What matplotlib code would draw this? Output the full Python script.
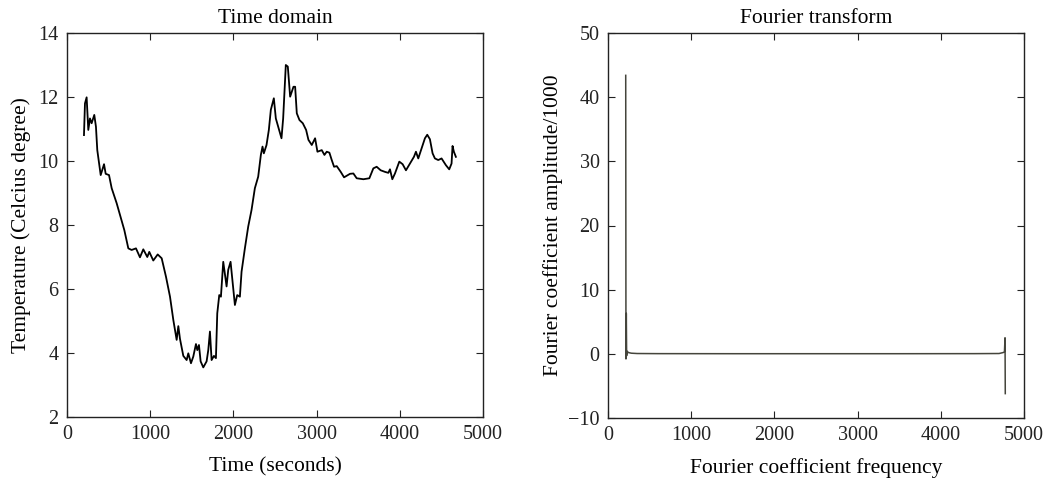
import matplotlib
matplotlib.use("Agg")
import matplotlib.pyplot as plt

plt.rcParams['font.family'] = ['Liberation Serif', 'DejaVu Serif']
plt.rcParams['axes.unicode_minus'] = True

# Time-domain series (seconds, degrees Celsius)
time_s = [204, 216, 236, 256, 276, 296, 328, 348, 364, 405, 445, 465, 505, 537,
          597, 637, 689, 737, 777, 829, 877, 917, 965, 989, 1037, 1090, 1138,
          1190, 1238, 1278, 1318, 1338, 1358, 1398, 1438, 1458, 1490, 1518, 1550,
          1566, 1586, 1606, 1638, 1678, 1698, 1718, 1738, 1766, 1790, 1806, 1830,
          1850, 1878, 1918, 1938, 1966, 1990, 2018, 2046, 2078, 2098, 2138, 2178,
          2218, 2258, 2298, 2330, 2350, 2366, 2398, 2426, 2450, 2486, 2510, 2538,
          2578, 2598, 2630, 2654, 2682, 2722, 2742, 2762, 2794, 2834, 2874, 2902,
          2942, 2982, 3010, 3062, 3094, 3122, 3154, 3182, 3210, 3242, 3290, 3330,
          3402, 3442, 3482, 3562, 3634, 3682, 3722, 3770, 3822, 3862, 3882, 3910,
          3942, 3994, 4034, 4074, 4122, 4170, 4194, 4222, 4262, 4302, 4330, 4362,
          4394, 4422, 4462, 4502, 4554, 4594, 4622, 4634, 4650, 4674]
temperature = [10.81, 11.80, 11.99, 10.97, 11.33, 11.18, 11.44, 11.07, 10.34, 9.56,
               9.90, 9.60, 9.56, 9.15, 8.68, 8.31, 7.84, 7.27, 7.22, 7.27, 6.99,
               7.24, 7.00, 7.16, 6.89, 7.08, 6.96, 6.38, 5.76, 5.03, 4.41, 4.84,
               4.44, 3.91, 3.78, 3.99, 3.68, 3.89, 4.28, 4.09, 4.25, 3.74, 3.55,
               3.74, 4.09, 4.67, 3.78, 3.91, 3.84, 5.24, 5.81, 5.76, 6.85, 6.08,
               6.60, 6.85, 6.23, 5.50, 5.81, 5.76, 6.54, 7.27, 7.95, 8.47, 9.15,
               9.51, 10.19, 10.45, 10.24, 10.50, 10.97, 11.60, 11.96, 11.33, 11.07,
               10.71, 11.33, 13.00, 12.95, 12.01, 12.32, 12.32, 11.49, 11.28, 11.18,
               10.97, 10.66, 10.50, 10.71, 10.29, 10.34, 10.19, 10.29, 10.26, 10.03,
               9.82, 9.84, 9.66, 9.49, 9.60, 9.61, 9.46, 9.43, 9.46, 9.77, 9.82,
               9.71, 9.66, 9.63, 9.74, 9.43, 9.61, 9.98, 9.90, 9.71, 9.92, 10.13,
               10.29, 10.08, 10.40, 10.71, 10.82, 10.68, 10.24, 10.08, 10.03, 10.08,
               9.87, 9.74, 9.92, 10.47, 10.29, 10.13]

# Fourier coefficients (amplitude / 1000)
fourier_freq = [213, 216, 220, 224, 230, 245, 280, 350, 600, 1500, 2500, 3500,
                4400, 4700, 4750, 4765, 4772, 4775]
fourier_amp = [43.4, -0.8, 6.3, -0.3, 0.4, 0.2, 0.1, 0.05, 0.03, 0.02, 0.02, 0.02,
               0.03, 0.05, 0.2, 0.3, 2.5, -6.2]

fig = plt.figure(figsize=(10.55, 4.79), dpi=100)
ax1 = fig.add_axes([67/1055, 1-417/479, 416/1055, 384/479])
ax2 = fig.add_axes([608/1055, 1-418/479, 416/1055, 385/479])

ax1.plot(time_s, temperature, color='black', lw=1.3)
ax1.set_xlim(0, 5000)
ax1.set_ylim(2, 14)
ax1.set_xticks([0, 1000, 2000, 3000, 4000, 5000])
ax1.set_yticks([2, 4, 6, 8, 10, 12, 14])
ax1.set_title('Time domain', fontsize=15.5, pad=7)
ax1.set_xlabel('Time (seconds)', fontsize=15.5, labelpad=9)
ax1.set_ylabel('Temperature (Celcius degree)', fontsize=15.5, labelpad=5)

ax2.plot(fourier_freq, fourier_amp, color='#45453c', lw=1.1)
ax2.set_xlim(0, 5000)
ax2.set_ylim(-10, 50)
ax2.set_xticks([0, 1000, 2000, 3000, 4000, 5000])
ax2.set_yticks([-10, 0, 10, 20, 30, 40, 50])
ax2.set_title('Fourier transform', fontsize=15.5, pad=7)
ax2.set_xlabel('Fourier coefficient frequency', fontsize=15.5, labelpad=9)
ax2.set_ylabel('Fourier coefficient amplitude/1000', fontsize=15.5, labelpad=4)

for ax in (ax1, ax2):
    ax.tick_params(direction='in', top=True, right=True, length=5, width=0.8,
                   labelsize=14.5, pad=6, colors='#222222')
    for s in ax.spines.values():
        s.set_linewidth(1.0)
        s.set_color('#222222')

fig.savefig('out.png', dpi=100)
